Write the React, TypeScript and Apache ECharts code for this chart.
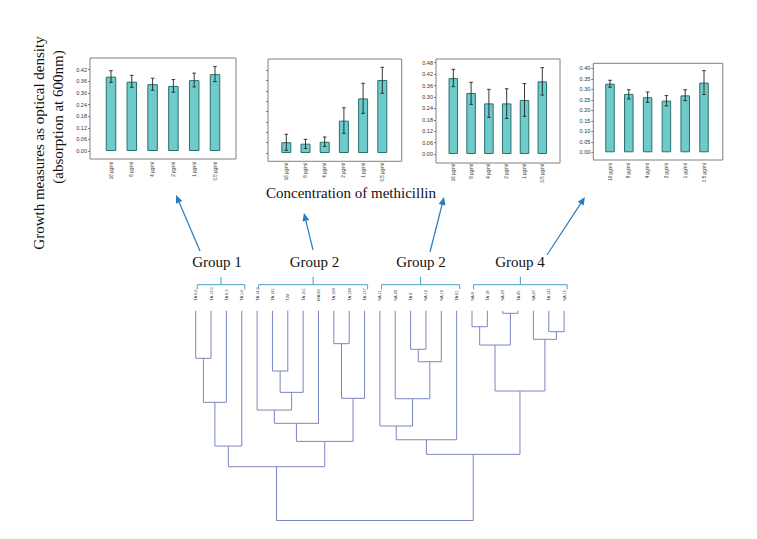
import React, { useEffect, useRef } from "react";
import * as echarts from "echarts";

// ---------- data ----------
const doseLabels = ["16 µg/ml", "8 µg/ml", "4 µg/ml", "2 µg/ml", "1 µg/ml", "0.5 µg/ml"];

const g1Mean = [0.384, 0.358, 0.345, 0.336, 0.366, 0.397];
const g1Low = [0.355, 0.329, 0.314, 0.304, 0.331, 0.358];
const g1High = [0.415, 0.391, 0.376, 0.369, 0.402, 0.436];

const g2Mean = [0.052, 0.045, 0.054, 0.156, 0.263, 0.352];
const g2Low = [0.013, 0.022, 0.032, 0.095, 0.191, 0.288];
const g2High = [0.09, 0.066, 0.077, 0.218, 0.336, 0.413];

const g3Mean = [0.399, 0.321, 0.266, 0.266, 0.284, 0.382];
const g3Low = [0.354, 0.261, 0.193, 0.187, 0.198, 0.31];
const g3High = [0.445, 0.377, 0.34, 0.343, 0.37, 0.454];

const g4Mean = [0.327, 0.278, 0.262, 0.246, 0.271, 0.332];
const g4Low = [0.31, 0.254, 0.238, 0.221, 0.246, 0.275];
const g4High = [0.343, 0.298, 0.287, 0.27, 0.298, 0.389];

const axisMaxes = [0.42, 0.4, 0.48, 0.4];
const axisSteps = [0.06, 0.05, 0.06, 0.05];
const showTickLabels = [true, false, true, true];

const leafNames = [
  "TA 0.0", "TA 13.0", "TA 6.3", "TA 1.0",
  "TA 14.0", "TA 141", "T24", "TA 161", "MA 90", "TA 168", "TA 128", "TA 137",
  "SA 11", "SA 20", "TA 2", "SA 12", "SA 19", "TA 61",
  "SA 8", "TA 18", "SA 23", "TA 45", "SA 27", "TA 121", "SA 15",
];

// [child a, child b, merge distance]; leaves are 0..24, new nodes numbered from 25
const merges: [number, number, number][] = [
  [0, 1, 5.67],
  [25, 2, 10.92],
  [26, 3, 16.13],
  [5, 6, 7.19],
  [28, 7, 9.73],
  [4, 29, 11.84],
  [30, 8, 13.42],
  [9, 10, 3.93],
  [32, 11, 10.44],
  [31, 33, 15.57],
  [27, 34, 18.59],
  [14, 15, 4.6],
  [36, 16, 6.08],
  [13, 37, 10.49],
  [12, 38, 13.74],
  [39, 17, 15.38],
  [18, 19, 1.91],
  [20, 21, 0.31],
  [41, 42, 4.09],
  [23, 24, 2.5],
  [22, 44, 3.41],
  [43, 45, 9.57],
  [40, 46, 17.12],
  [35, 47, 25.0],
];

const groupNames = ["Group 1", "Group 2", "Group 2", "Group 4"];
const groupSpans: [number, number][] = [[0, 3], [4, 11], [12, 17], [18, 24]];

// ---------- layout (styling only) ----------
const panels = [
  { frame: [90, 58, 146, 101], grid: [100.6, 69.7, 124.8, 81.3], barW: 10.5, labelMargin: 11 },
  { frame: [268, 59, 133.7, 102.3], grid: [276.7, 70, 115.2, 83], barW: 10, labelMargin: 10 },
  { frame: [436, 59, 124, 104], grid: [444.4, 62.7, 106.8, 91.3], barW: 9.5, labelMargin: 10 },
  { frame: [593.3, 63.3, 129.5, 96.7], grid: [600.6, 68.3, 112.8, 84], barW: 9.5, labelMargin: 11 },
];
const dendroGrid = { left: 195.7, top: 310.7, width: 368.4, height: 209.8 };
const groupLabelPos: [number, number][] = [[217, 262], [314.5, 262], [421, 262], [520, 262]];
const arrows: [number, number, number, number][] = [
  [200, 251, 176, 195],
  [313, 250, 304, 213],
  [430, 252, 444, 197],
  [547, 255, 585, 197],
];

const SANS = "'Liberation Sans', Arial, sans-serif";
const SERIF = "'Liberation Serif', 'Times New Roman', serif";
const ARROW = "#2b7bba";
const BRACE = "#48a0c8";
const DENDRO = "#7a86c0";

function buildOption() {
  const means = [g1Mean, g2Mean, g3Mean, g4Mean];
  const lows = [g1Low, g2Low, g3Low, g4Low];
  const highs = [g1High, g2High, g3High, g4High];

  const grids: any[] = [];
  const xAxes: any[] = [];
  const yAxes: any[] = [];
  const series: any[] = [];
  const graphics: any[] = [];

  panels.forEach((p, i) => {
    grids.push({ left: p.grid[0], top: p.grid[1], width: p.grid[2], height: p.grid[3], containLabel: false });
    xAxes.push({
      type: "category",
      gridIndex: i,
      data: doseLabels,
      axisLine: { show: false },
      axisTick: { show: false },
      axisLabel: {
        rotate: 90,
        margin: p.labelMargin,
        fontSize: 4.5,
        color: "#333",
        fontFamily: SANS,
        interval: 0,
      },
    });
    yAxes.push({
      type: "value",
      gridIndex: i,
      min: 0,
      max: axisMaxes[i],
      interval: axisSteps[i],
      offset: p.grid[0] - p.frame[0],
      axisLine: { show: false },
      axisTick: { show: true, length: 2, lineStyle: { color: "#555", width: 0.8 } },
      splitLine: { show: false },
      axisLabel: {
        show: showTickLabels[i],
        fontSize: 5.5,
        color: "#333",
        margin: 3,
        fontFamily: SANS,
        formatter: (v: number) => v.toFixed(2),
      },
    });
    series.push({
      type: "bar",
      xAxisIndex: i,
      yAxisIndex: i,
      data: means[i],
      barWidth: p.barW,
      itemStyle: { color: "#6fcaca", borderColor: "#2b6f70", borderWidth: 1 },
      z: 2,
    });
    series.push({
      type: "custom",
      xAxisIndex: i,
      yAxisIndex: i,
      clip: false,
      z: 5,
      data: lows[i].map((l, j) => [j, l, highs[i][j]]),
      encode: { x: 0, y: [1, 2] },
      renderItem: (params: any, api: any) => {
        const x = api.value(0);
        const lo = api.coord([x, api.value(1)]);
        const hi = api.coord([x, api.value(2)]);
        const cap = 1.8;
        const st = { stroke: "#222", lineWidth: 0.9 };
        return {
          type: "group",
          children: [
            { type: "line", shape: { x1: lo[0], y1: lo[1], x2: hi[0], y2: hi[1] }, style: st },
            { type: "line", shape: { x1: lo[0] - cap, y1: lo[1], x2: lo[0] + cap, y2: lo[1] }, style: st },
            { type: "line", shape: { x1: hi[0] - cap, y1: hi[1], x2: hi[0] + cap, y2: hi[1] }, style: st },
          ],
        };
      },
    });
    graphics.push({
      type: "rect",
      shape: { x: p.frame[0], y: p.frame[1], width: p.frame[2], height: p.frame[3] },
      style: { fill: "none", stroke: "#808080", lineWidth: 1 },
      z: 1,
    });
  });

  // dendrogram
  const di = panels.length;
  grids.push({ left: dendroGrid.left, top: dendroGrid.top, width: dendroGrid.width, height: dendroGrid.height });
  xAxes.push({
    type: "value",
    gridIndex: di,
    position: "top",
    min: 0,
    max: leafNames.length - 1,
    interval: 1,
    axisLine: { show: false },
    axisTick: { show: false },
    splitLine: { show: false },
    axisLabel: {
      rotate: 90,
      margin: 10,
      fontSize: 4,
      color: "#333",
      fontFamily: SANS,
      showMinLabel: true,
      showMaxLabel: true,
      formatter: (v: number) => leafNames[Math.round(v)] ?? "",
    },
  });
  yAxes.push({
    type: "value",
    gridIndex: di,
    inverse: true,
    min: 0,
    max: 25,
    show: false,
  });

  const nodeX: number[] = leafNames.map((_, i) => i);
  const nodeH: number[] = leafNames.map(() => 0);
  const links = merges.map(([a, b, h]) => {
    const coords = [
      [nodeX[a], nodeH[a]],
      [nodeX[a], h],
      [nodeX[b], h],
      [nodeX[b], nodeH[b]],
    ];
    nodeX.push((nodeX[a] + nodeX[b]) / 2);
    nodeH.push(h);
    return { coords };
  });
  series.push({
    type: "lines",
    coordinateSystem: "cartesian2d",
    xAxisIndex: di,
    yAxisIndex: di,
    polyline: true,
    clip: false,
    silent: true,
    lineStyle: { color: DENDRO, width: 1, opacity: 1 },
    data: links,
  });

  const braceData: any[] = [];
  groupSpans.forEach(([s0, e0]) => {
    const s = s0 + 0.1;
    const e = e0 + 0.2;
    const c = (s + e) / 2;
    braceData.push({ coords: [[s, -2.55], [s, -3.1], [e, -3.1], [e, -2.55]] });
    braceData.push({ coords: [[c, -3.1], [c, -4.05]] });
  });
  series.push({
    type: "lines",
    coordinateSystem: "cartesian2d",
    xAxisIndex: di,
    yAxisIndex: di,
    polyline: true,
    clip: false,
    silent: true,
    lineStyle: { color: BRACE, width: 1, opacity: 1 },
    data: braceData,
  });

  // texts
  graphics.push({
    type: "text",
    x: 39,
    y: 143,
    rotation: Math.PI / 2,
    style: { text: "Growth measures as optical density", font: `15px ${SERIF}`, fill: "#111", textAlign: "center", textVerticalAlign: "middle" },
  });
  graphics.push({
    type: "text",
    x: 58,
    y: 117,
    rotation: Math.PI / 2,
    style: { text: "(absorption at 600nm)", font: `15px ${SERIF}`, fill: "#111", textAlign: "center", textVerticalAlign: "middle" },
  });
  graphics.push({
    type: "text",
    x: 351,
    y: 193,
    style: { text: "Concentration of methicillin", font: `15px ${SERIF}`, fill: "#111", textAlign: "center", textVerticalAlign: "middle" },
  });
  groupNames.forEach((g, i) => {
    graphics.push({
      type: "text",
      x: groupLabelPos[i][0],
      y: groupLabelPos[i][1],
      style: { text: g, font: `15px ${SERIF}`, fill: "#111", textAlign: "center", textVerticalAlign: "middle" },
    });
  });

  // arrows
  arrows.forEach(([x1, y1, x2, y2]) => {
    const dx = x2 - x1;
    const dy = y2 - y1;
    const len = Math.sqrt(dx * dx + dy * dy);
    const ux = dx / len;
    const uy = dy / len;
    const hl = 8;
    const hw = 3.5;
    const bx = x2 - ux * hl;
    const by = y2 - uy * hl;
    graphics.push({
      type: "line",
      shape: { x1, y1, x2: bx, y2: by },
      style: { stroke: ARROW, lineWidth: 1.2 },
    });
    graphics.push({
      type: "polygon",
      shape: {
        points: [
          [x2, y2],
          [bx - uy * hw, by + ux * hw],
          [bx + uy * hw, by - ux * hw],
        ],
      },
      style: { fill: ARROW },
    });
  });

  return {
    animation: false,
    backgroundColor: "#ffffff",
    grid: grids,
    xAxis: xAxes,
    yAxis: yAxes,
    series,
    graphic: graphics,
  };
}

export default function App() {
  const ref = useRef<HTMLDivElement>(null);
  useEffect(() => {
    if (!ref.current) return;
    const chart = echarts.init(ref.current, undefined, { renderer: "svg" });
    chart.setOption(buildOption() as any);
    return () => chart.dispose();
  }, []);
  return (
    <div
      ref={ref}
      style={{ position: "absolute", left: 0, top: 0, width: 757, height: 539, background: "#fff" }}
    />
  );
}
